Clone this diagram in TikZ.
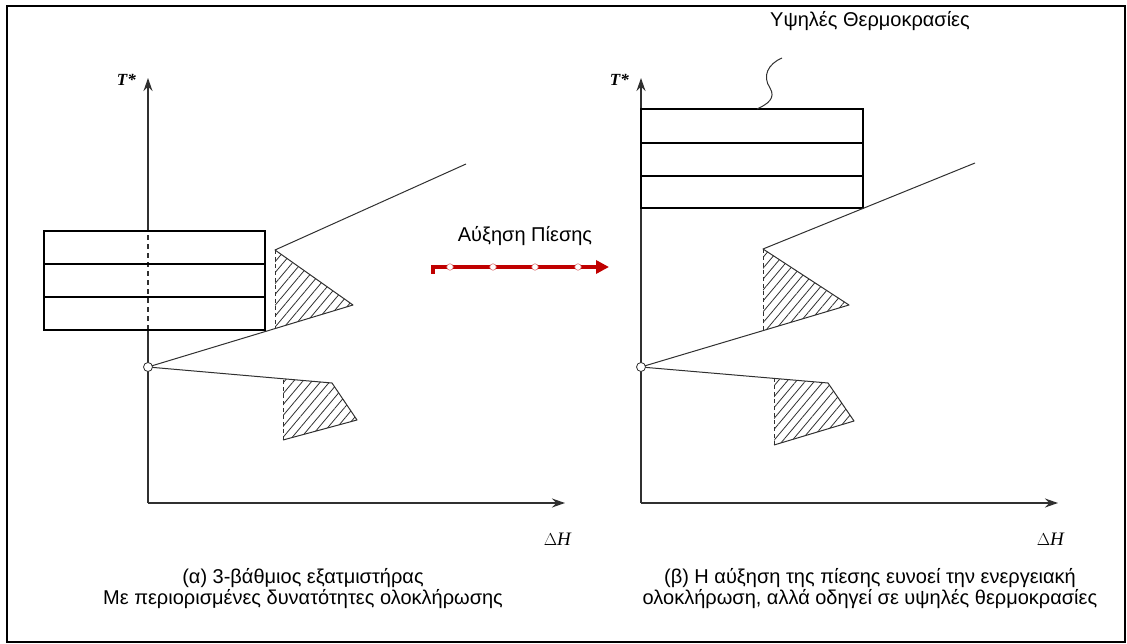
\documentclass[tikz,border=0pt]{standalone}
\usepackage{fontspec}
\setmainfont{Liberation Sans}
\newfontfamily\axisfont{Liberation Serif}
\usetikzlibrary{arrows.meta,patterns.meta}
\definecolor{pressred}{HTML}{C00000}
\definecolor{inkgray}{HTML}{303030}
\begin{document}
\begin{tikzpicture}[x=1pt,y=-1pt,
  axisline/.style={line width=1.4pt, draw=inkgray},
  axisarrow/.style={axisline, -{Stealth[length=13pt,width=9pt]}},
  axisdash/.style={axisline, dash pattern=on 5pt off 4pt},
  stage/.style={line width=1.2pt, draw=black},
  curve/.style={line width=1pt, draw=inkgray, line join=round},
  hatch/.style={pattern={Lines[angle=50,distance=7pt,line width=0.8pt]}, pattern color=inkgray},
  guide/.style={line width=1pt, draw=inkgray, dash pattern=on 4pt off 3pt},
  pinch/.style={circle, draw=inkgray, fill=white, line width=0.8pt, inner sep=0pt, minimum size=9pt},
  bead/.style={circle, draw=white!45!pressred, fill=white, line width=0.6pt, inner sep=0pt, minimum size=6.5pt},
  caption/.style={font=\fontsize{20}{21}\selectfont, inner sep=0pt},
  tlabel/.style={font=\axisfont\bfseries\itshape\fontsize{17}{18}\selectfont, inner sep=0pt},
  hlabel/.style={font=\axisfont\fontsize{19}{20}\selectfont, inner sep=0pt},
]
\useasboundingbox (0,0) rectangle (1127,644);
\draw[line width=2pt] (7,6) rectangle (1125,642);

% ---------- (a) three-stage evaporator ----------
\coordinate (aO) at (148,503);
\coordinate (aBoxBot) at (148,330);
\coordinate (aBoxTop) at (148,231);
\coordinate (aY) at (148,78);
\coordinate (aX) at (565,503);
\draw[axisline] (aO) -- (aBoxBot);
\draw[axisdash] (aBoxBot) -- (aBoxTop);
\draw[axisarrow] (aBoxTop) -- (aY);
\draw[axisarrow] (aO) -- (aX);
\node[tlabel, anchor=base east] (aT) at (136,86) {T*};
\node[hlabel, anchor=base east] (aH) at (572,545) {$\Delta$\textit{H}};

% evaporator stages
\draw[stage] (44,231) rectangle (265,330);
\draw[stage] (44,264) -- (265,264);
\draw[stage] (44,297) -- (265,297);

% pinch point and composite curves
\coordinate (aP) at (148,367);
\fill[hatch] (275,250) -- (353,305) -- (275,328.6) -- cycle;
\fill[hatch] (283,378.7) -- (332,383) -- (357,420) -- (283,440) -- cycle;
\draw[curve] (aP) -- (353,305) -- (275,250) -- (466,164);
\draw[guide] (275,250) -- (275,328.6);
\draw[curve] (aP) -- (332,383) -- (357,420) -- (283,440);
\draw[guide] (283,440) -- (283,378.7);
\node[pinch] (aPinch) at (aP) {};

\node[caption, anchor=base] (capA1) at (303,583) {(α) 3-βάθμιος εξατμιστήρας};
\node[caption, anchor=base] (capA2) at (303,604) {Με περιορισμένες δυνατότητες ολοκλήρωσης};

% ---------- pressure increase ----------
\node[caption, anchor=base] (press) at (525,242) {Αύξηση Πίεσης};
\coordinate (rStart) at (433,274);
\coordinate (rBend) at (433,267);
\coordinate (rEnd) at (609,267);
\draw[pressred, line width=3.5pt, -{Triangle[length=13pt,width=13pt]}] (rStart) -- (rBend) -- (rEnd);
\foreach \bx [count=\i] in {450,493,535,578} \node[bead] (bead\i) at (\bx,267) {};

% ---------- (b) higher pressure ----------
\coordinate (bO) at (641,503);
\coordinate (bY) at (641,78);
\coordinate (bX) at (1058,503);
\draw[axisarrow] (bO) -- (bY);
\draw[axisarrow] (bO) -- (bX);
\node[tlabel, anchor=base east] (bT) at (629,86) {T*};
\node[hlabel, anchor=base east] (bH) at (1065,545) {$\Delta$\textit{H}};

\draw[stage] (641,109) rectangle (863,208);
\draw[stage] (641,143) -- (863,143);
\draw[stage] (641,176) -- (863,176);

\coordinate (bP) at (641,367);
\fill[hatch] (763,249) -- (849,305) -- (763,330.6) -- cycle;
\fill[hatch] (774,378.4) -- (828,383) -- (854,421) -- (774,445) -- cycle;
\draw[curve] (bP) -- (849,305) -- (763,249) -- (975,163);
\draw[guide] (763,249) -- (763,330.6);
\draw[curve] (bP) -- (828,383) -- (854,421) -- (774,445);
\draw[guide] (774,445) -- (774,378.4);
\node[pinch] (bPinch) at (bP) {};

% callout for the high temperature stages
\node[caption, anchor=base west] (hot) at (770,27) {Υψηλές Θερμοκρασίες};
\coordinate (hotTip) at (782,58);
\coordinate (hotFoot) at (757,109);
\draw[curve] (hotTip) .. controls (768,64) and (762,76) .. (770,88) .. controls (776,98) and (768,104) .. (hotFoot);

\node[caption, anchor=base] (capB1) at (870,583) {(β) Η αύξηση της πίεσης ευνοεί την ενεργειακή};
\node[caption, anchor=base] (capB2) at (870,604) {ολοκλήρωση, αλλά οδηγεί σε υψηλές θερμοκρασίες};
\end{tikzpicture}
\end{document}
